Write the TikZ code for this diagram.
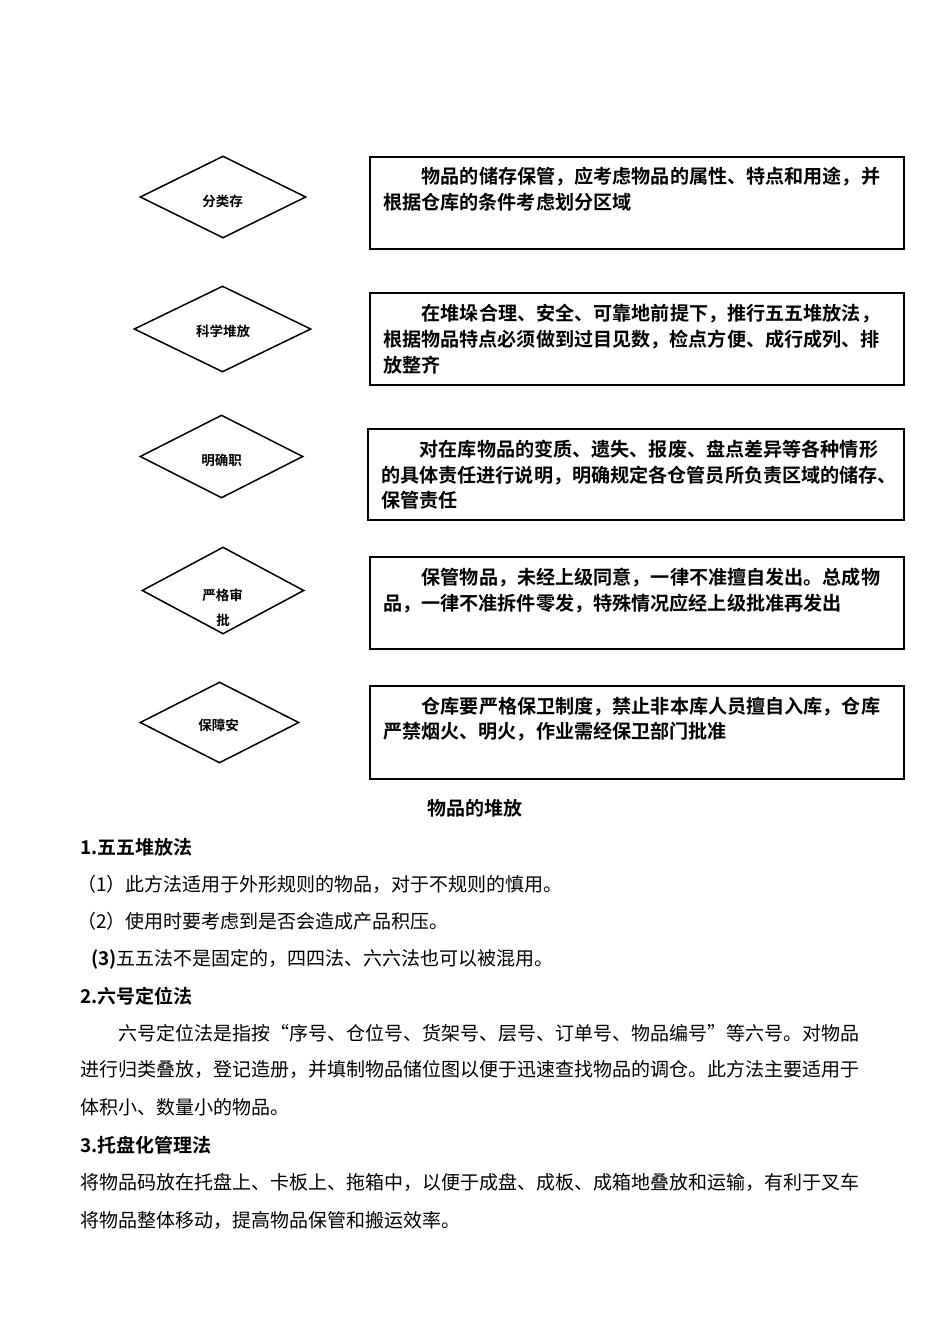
\documentclass[tikz,border=0pt]{standalone}
\usepackage{fontspec}
\setmainfont{Noto Sans CJK SC}[BoldFont={Noto Sans CJK SC Bold}]
\usetikzlibrary{shapes.geometric}
\tikzset{
  dia/.style={draw, line width=1.5pt, shape=diamond, inner sep=0pt},
  bx/.style={draw, line width=1.6pt, anchor=north west, inner sep=0pt},
  dt/.style={inner sep=0pt, font=\bfseries\fontsize{13.5}{13.5}\selectfont, text height=11.9pt, text depth=1.6pt},
  bt/.style={anchor=west, inner sep=0pt, font=\bfseries\fontsize{19.1}{19.1}\selectfont, text height=16.8pt, text depth=2.3pt},
  rt/.style={anchor=west, inner sep=0pt, font=\fontsize{19}{19}\selectfont, text height=16.7pt, text depth=2.3pt},
  ht/.style={anchor=west, inner sep=0pt, font=\bfseries\fontsize{19}{19}\selectfont, text height=16.7pt, text depth=2.3pt}
}
\begin{document}
\begin{tikzpicture}[x=1pt,y=-1pt]
\useasboundingbox (0,0) rectangle (950,1344);
\fill[white] (0,0) rectangle (950,1344);

% diamonds
\node[dia, minimum width=166, minimum height=82] (d1) at (223,197) {};
\node[dia, minimum width=177, minimum height=86] (d2) at (222.5,329) {};
\node[dia, minimum width=163, minimum height=83] (d3) at (221.5,456.5) {};
\node[dia, minimum width=162, minimum height=87] (d4) at (223,590.5) {};
\node[dia, minimum width=159, minimum height=81] (d5) at (219.5,722.5) {};

\node[dt] (d1t) at (222.5,201) {分类存};
\node[dt] (d2t) at (223,331.5) {科学堆放};
\node[dt] (d3t) at (221.7,460) {明确职};
\node[dt] (d4t) at (222.5,595) {严格审};
\node[dt] (d4u) at (223,620) {批};
\node[dt] (d5t) at (218.7,725.5) {保障安};

% boxes
\node[bx, minimum width=534, minimum height=92] (b1) at (369,156) {};
\node[bx, minimum width=534, minimum height=92] (b2) at (369,292) {};
\node[bx, minimum width=536, minimum height=91] (b3) at (367,428) {};
\node[bx, minimum width=534, minimum height=92] (b4) at (369,556) {};
\node[bx, minimum width=534, minimum height=93] (b5) at (369,685) {};

\node[bt] (b1a) at (421.5,176.5) {物品的储存保管，应考虑物品的属性、特点和用途，并};
\node[bt] (b1b) at (383,202.5) {根据仓库的条件考虑划分区域};

\node[bt] (b2a) at (421.5,313) {在堆垛合理、安全、可靠地前提下，推行五五堆放法，};
\node[bt] (b2b) at (383,339.5) {根据物品特点必须做到过目见数，检点方便、成行成列、排};
\node[bt] (b2c) at (383,365) {放整齐};

\node[bt] (b3a) at (419.5,449) {对在库物品的变质、遗失、报废、盘点差异等各种情形};
\node[bt] (b3b) at (381,475) {的具体责任进行说明，明确规定各仓管员所负责区域的储存、};
\node[bt] (b3c) at (381,500) {保管责任};

\node[bt] (b4a) at (421.5,577) {保管物品，未经上级同意，一律不准擅自发出。总成物};
\node[bt] (b4b) at (383,603) {品，一律不准拆件零发，特殊情况应经上级批准再发出};

\node[bt] (b5a) at (421.5,706) {仓库要严格保卫制度，禁止非本库人员擅自入库，仓库};
\node[bt] (b5b) at (383,731) {严禁烟火、明火，作业需经保卫部门批准};

% lower text
\node[ht, anchor=center] (title) at (475,808) {物品的堆放};
\node[ht] (h1) at (80,847) {1.五五堆放法};
\node[rt] (p1) at (77,884) {（1）此方法适用于外形规则的物品，对于不规则的慎用。};
\node[rt] (p2) at (77,921) {（2）使用时要考虑到是否会造成产品积压。};
\node[rt] (p3) at (91,958) {\textbf{(3)}五五法不是固定的，四四法、六六法也可以被混用。};
\node[ht] (h2) at (80,996) {2.六号定位法};
\node[rt] (q1) at (118,1033) {六号定位法是指按“序号、仓位号、货架号、层号、订单号、物品编号”等六号。对物品};
\node[rt] (q2) at (80,1069) {进行归类叠放，登记造册，并填制物品储位图以便于迅速查找物品的调仓。此方法主要适用于};
\node[rt] (q3) at (80,1107) {体积小、数量小的物品。};
\node[ht] (h3) at (80,1145) {3.托盘化管理法};
\node[rt] (r1) at (80,1182) {将物品码放在托盘上、卡板上、拖箱中，以便于成盘、成板、成箱地叠放和运输，有利于叉车};
\node[rt] (r2) at (80,1220) {将物品整体移动，提高物品保管和搬运效率。};
\end{tikzpicture}
\end{document}
